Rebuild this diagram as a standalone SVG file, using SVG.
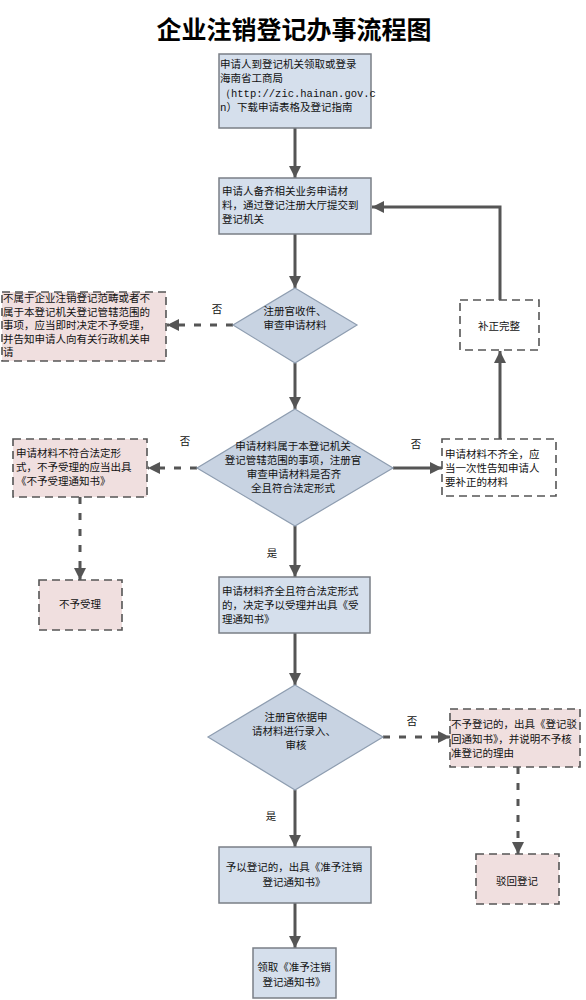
<svg xmlns="http://www.w3.org/2000/svg" width="586" height="1000" viewBox="0 0 586 1000">
<defs>
<marker id="ah" markerUnits="userSpaceOnUse" markerWidth="14" markerHeight="14" refX="12" refY="7" orient="auto">
<path d="M0,1 L12,7 L0,13 Z" fill="#555"/>
</marker>
<style>
.t{font-family:"Noto Sans CJK SC","Liberation Sans",sans-serif;font-size:10.5px;fill:#111}
.c{text-anchor:middle}
.blue{fill:#d5dfec;stroke:#7a7f86;stroke-width:1.5}
.dia{fill:#c8d3e2;stroke:#8e9db0;stroke-width:1.2}
.pink{fill:#f0dfdf;stroke:#555;stroke-width:1.6;stroke-dasharray:8 5}
.white{fill:#fff;stroke:#555;stroke-width:1.6;stroke-dasharray:8 5}
.ln{fill:none;stroke:#555;stroke-width:3;marker-end:url(#ah)}
.dl{fill:none;stroke:#555;stroke-width:3;stroke-dasharray:7 9;marker-end:url(#ah)}
.title{font-family:"Noto Sans CJK SC",sans-serif;font-size:25px;font-weight:bold;fill:#000;text-anchor:middle}
</style>
</defs>
<rect width="586" height="1000" fill="#fff"/>
<text class="title" x="294" y="39">企业注销登记办事流程图</text>

<g id="connectors">
<path class="ln" d="M295,128 V178"/>
<path class="ln" d="M295,234 V288"/>
<path class="ln" d="M295,363 V409"/>
<path class="dl" d="M233,325 H167"/>
<path class="dl" d="M197,468 H148"/>
<path class="ln" d="M393,468 H442"/>
<path class="ln" d="M500,439 V351"/>
<path class="ln" d="M500,300 V207 H372"/>
<path class="dl" d="M80,497 V580"/>
<path class="ln" d="M295,526 V577"/>
<path class="ln" d="M295,633 V685"/>
<path class="dl" d="M383,737 H450"/>
<path class="dl" d="M518,767 V854"/>
<path class="ln" d="M295,790 V847"/>
<path class="ln" d="M295,903 V948"/>
<text class="t c" x="217" y="313">否</text>
<text class="t c" x="185" y="445">否</text>
<text class="t c" x="416" y="448">否</text>
<text class="t c" x="272" y="557">是</text>
<text class="t c" x="412" y="725">否</text>
<text class="t c" x="271" y="820">是</text>
</g>

<g id="n1">
<rect class="blue" x="219" y="54" width="152" height="74"/>
<text class="t" x="220" y="68">申请人到登记机关领取或登录</text>
<text class="t" x="220" y="82">海南省工商局</text>
<text class="t" x="220" y="97" style="font-family:'Liberation Mono',monospace">（http://zic.hainan.gov.c</text>
<text class="t" x="220" y="111">n）下载申请表格及登记指南</text>
</g>

<g id="n2">
<rect class="blue" x="219" y="178" width="152" height="56"/>
<text class="t" x="222" y="195">申请人备齐相关业务申请材</text>
<text class="t" x="222" y="209">料，通过登记注册大厅提交到</text>
<text class="t" x="222" y="223">登记机关</text>
</g>

<g id="d1">
<polygon class="dia" points="295,288 357,325 295,363 233,325"/>
<text class="t c" x="295" y="315">注册官收件、</text>
<text class="t c" x="295" y="329">审查申请材料</text>
</g>

<g id="n_left1">
<rect class="pink" x="2" y="292" width="164" height="69"/>
<text class="t" x="3" y="302">不属于企业注销登记范畴或者不</text>
<text class="t" x="3" y="315.5">属于本登记机关登记管辖范围的</text>
<text class="t" x="3" y="329">事项，应当即时决定不予受理，</text>
<text class="t" x="3" y="342.5">并告知申请人向有关行政机关申</text>
<text class="t" x="3" y="356">请</text>
</g>

<g id="n_fix">
<rect class="white" x="460" y="300" width="79" height="50"/>
<text class="t c" x="499" y="330">补正完整</text>
</g>

<g id="d2">
<polygon class="dia" points="295,409 393,468 295,526 197,468"/>
<text class="t c" x="293" y="450">申请材料属于本登记机关</text>
<text class="t c" x="293" y="464">登记管辖范围的事项，注册官</text>
<text class="t c" x="294" y="478">审查申请材料是否齐</text>
<text class="t c" x="293" y="492">全且符合法定形式</text>
</g>

<g id="n_left2">
<rect class="pink" x="13" y="439" width="134" height="58"/>
<text class="t" x="16" y="457">申请材料不符合法定形</text>
<text class="t" x="16" y="471">式，不予受理的应当出具</text>
<text class="t" x="16" y="485">《不予受理通知书》</text>
</g>

<g id="n_right2">
<rect class="white" x="442" y="439" width="114" height="57"/>
<text class="t" x="445" y="458">申请材料不齐全，应</text>
<text class="t" x="445" y="472">当一次性告知申请人</text>
<text class="t" x="445" y="486">要补正的材料</text>
</g>

<g id="n_reject1">
<rect class="pink" x="39" y="580" width="83" height="50"/>
<text class="t c" x="80" y="608">不予受理</text>
</g>

<g id="n3">
<rect class="blue" x="219" y="577" width="151" height="56"/>
<text class="t" x="222" y="595">申请材料齐全且符合法定形式</text>
<text class="t" x="222" y="609">的，决定予以受理并出具《受</text>
<text class="t" x="222" y="623">理通知书》</text>
</g>

<g id="d3">
<polygon class="dia" points="295,685 383,737 295,790 208,737"/>
<text class="t c" x="296" y="721">注册官依据申</text>
<text class="t c" x="294" y="735">请材料进行录入、</text>
<text class="t c" x="296" y="749">审核</text>
</g>

<g id="n_right3">
<rect class="pink" x="450" y="709" width="130" height="58"/>
<text class="t" x="451" y="728">不予登记的，出具《登记驳</text>
<text class="t" x="451" y="743">回通知书》，并说明不予核</text>
<text class="t" x="451" y="757">准登记的理由</text>
</g>

<g id="n_reject2">
<rect class="pink" x="476" y="854" width="83" height="50"/>
<text class="t c" x="517" y="885">驳回登记</text>
</g>

<g id="n4">
<rect class="blue" x="219" y="847" width="152" height="56"/>
<text class="t c" x="294" y="871">予以登记的，出具《准予注销</text>
<text class="t c" x="294" y="886">登记通知书》</text>
</g>

<g id="n5">
<rect class="blue" x="253" y="948" width="83" height="50"/>
<text class="t c" x="294" y="971">领取《准予注销</text>
<text class="t c" x="294" y="986">登记通知书》</text>
</g>
</svg>
